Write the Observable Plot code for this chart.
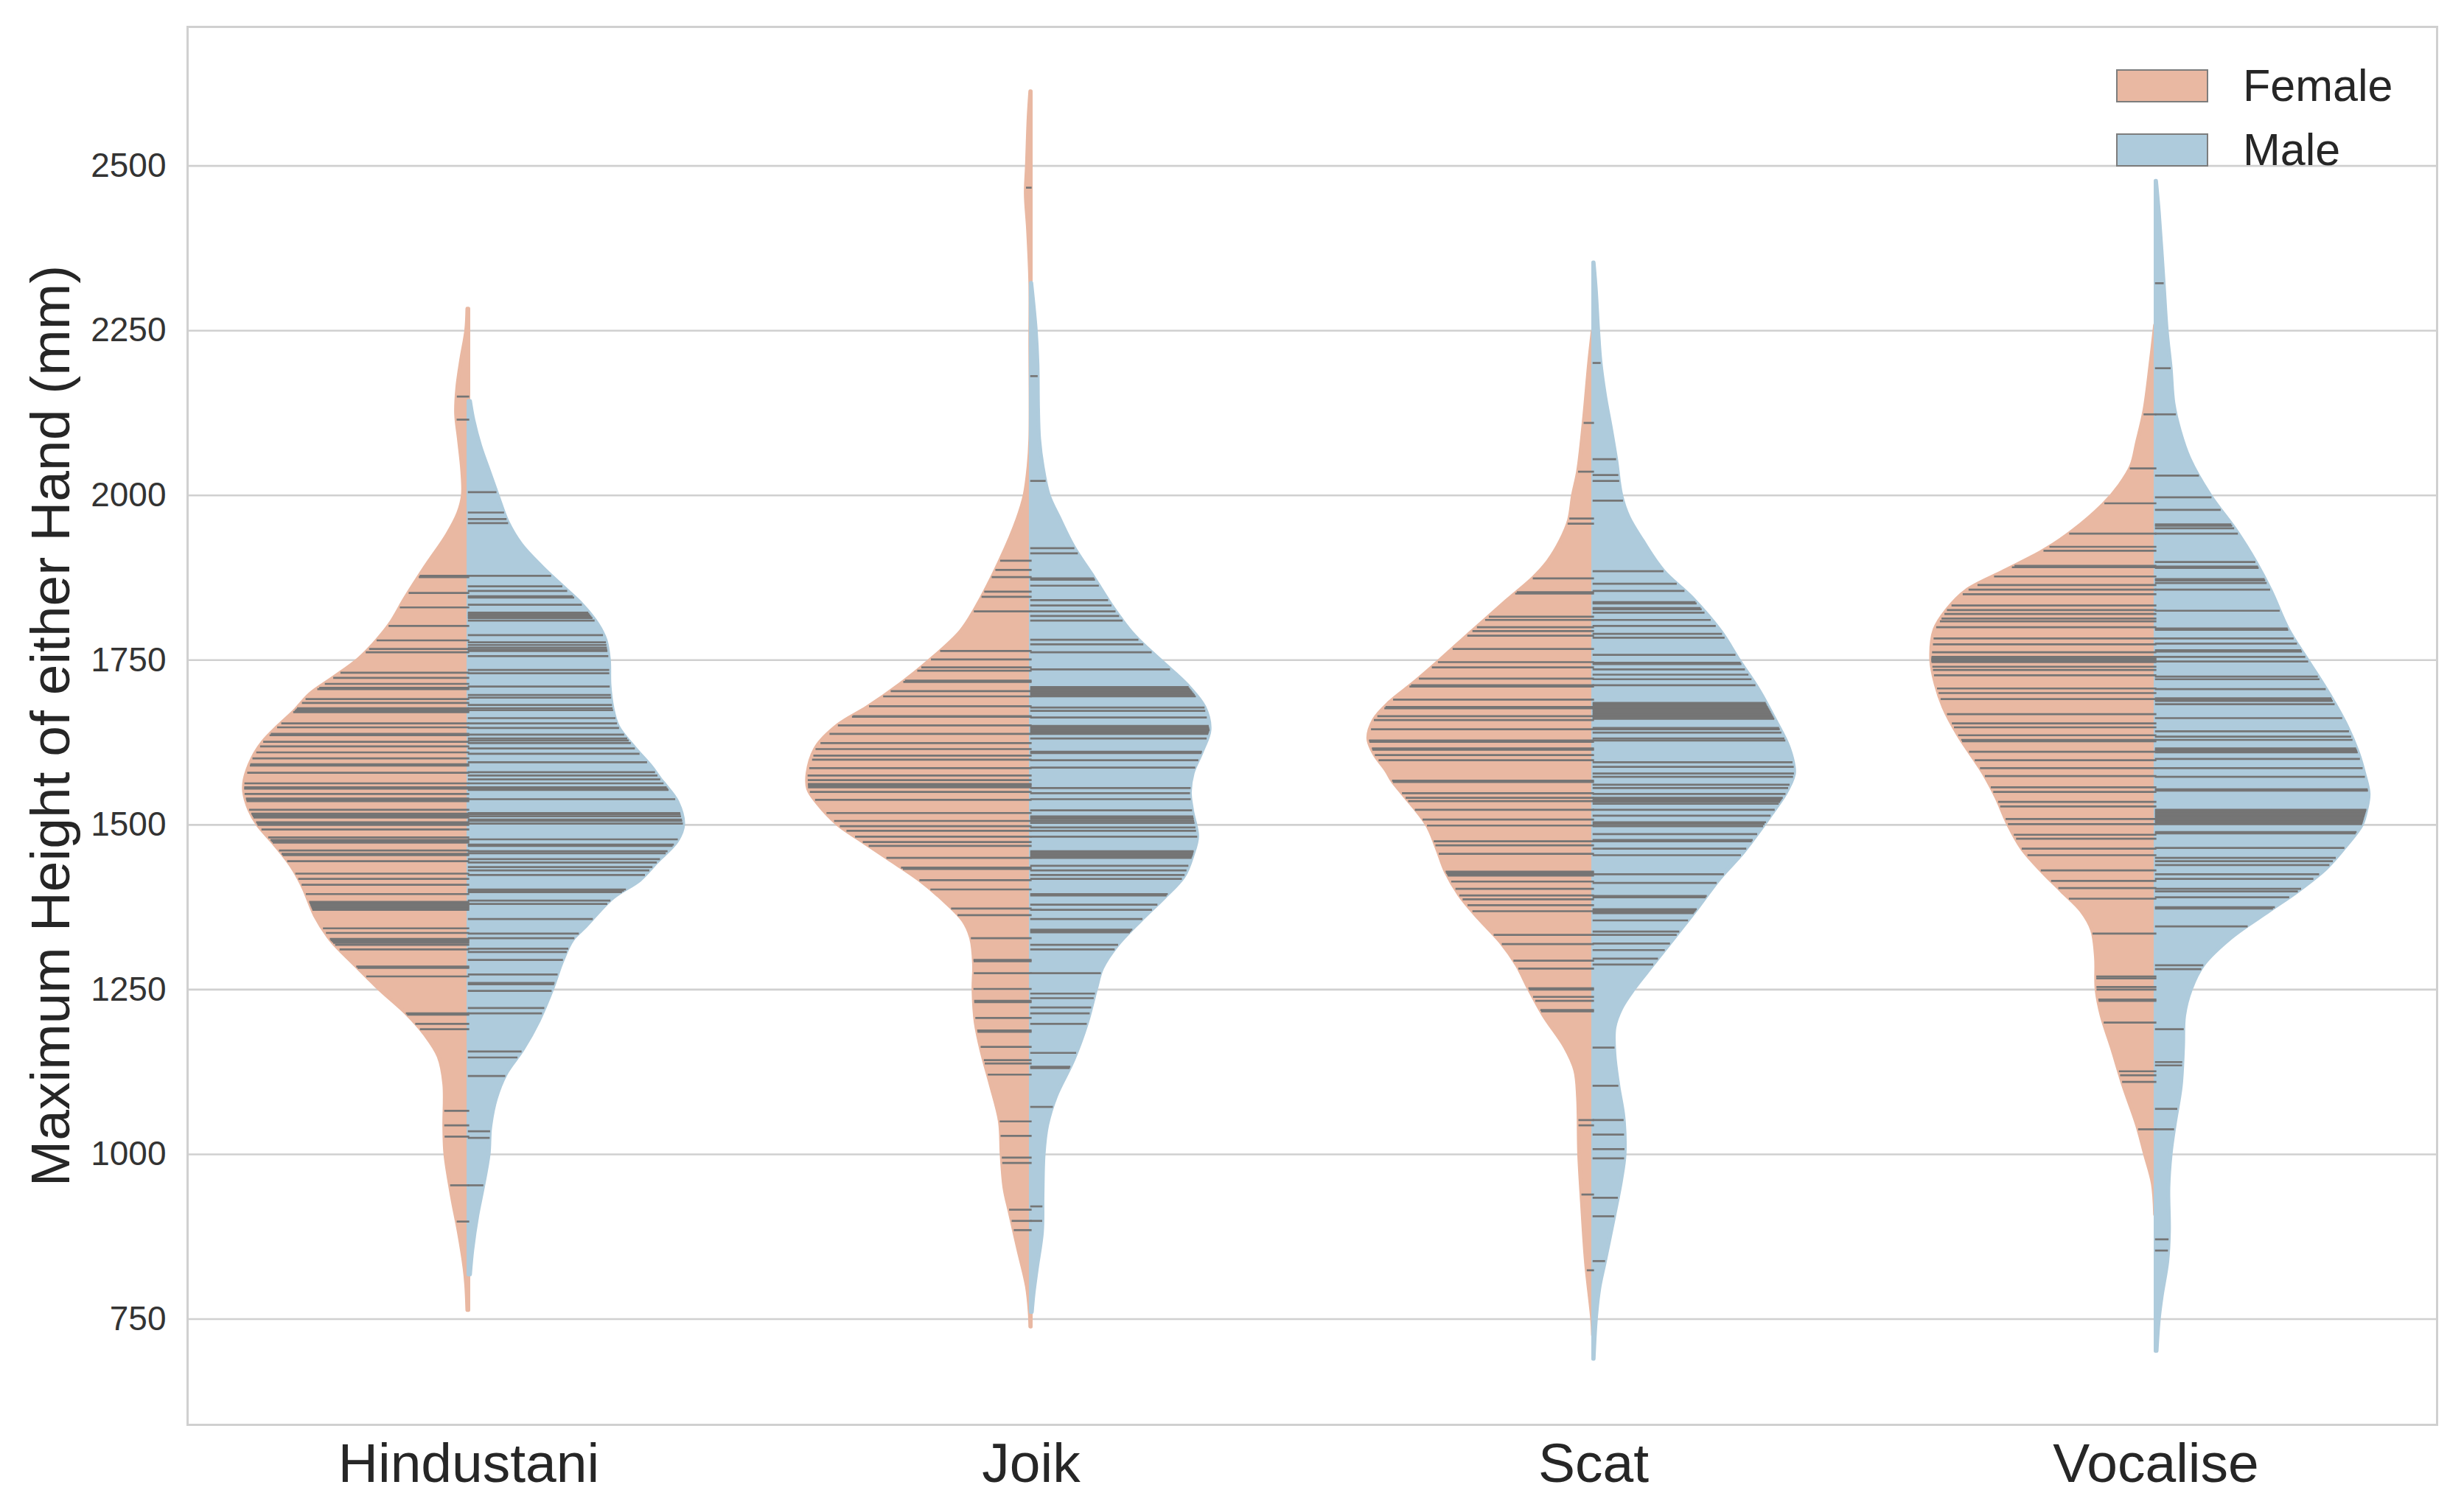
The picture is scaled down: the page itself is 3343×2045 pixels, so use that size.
<!DOCTYPE html>
<html>
<head>
<meta charset="utf-8">
<script src="https://cdn.jsdelivr.net/npm/d3@7"></script>
<script src="https://cdn.jsdelivr.net/npm/@observablehq/plot@0.6"></script>
<style>
  body { margin: 0; background: #fff; font-family: "Liberation Sans", Arial, sans-serif; }
  #wrap { position: relative; width: 3343px; height: 2045px; }
  .key { position: absolute; left: 2871px; display: flex; align-items: center; font-size: 61px; color: #262626; }
  .key i { display: block; width: 121px; height: 41px; border: 2.5px solid #7d7d7d; margin-right: 47px; }
</style>
</head>
<body>
<div id="wrap">
  <div id="plot"></div>
  <div class="key" style="top:81px"><i style="background:#e9b8a2"></i><span>Female</span></div>
  <div class="key" style="top:168px"><i style="background:#aecbdc"></i><span>Male</span></div>
</div>
<script>
const genres = ["Hindustani", "Joik", "Scat", "Vocalise"];
const yTicks = [750, 1000, 1250, 1500, 1750, 2000, 2250, 2500];

// violin outlines: height (mm) and half width (in category units)
const hinFemaleY = [2283,2250,2205,2162,2123,2085,2036,2000,1973,1940,1891,1843,1804,1770,1750,1722,1698,1673,1649,1625,1601,1568,1550,1523,1500,1470,1437,1405,1362,1325,1288,1250,1213,1181,1148,1106,1041,999,934,881,827,801,763];
const hinFemaleW = [.002,.004,.013,.020,.022,.017,.011,.010,.018,.038,.077,.113,.140,.173,.197,.242,.282,.309,.339,.366,.384,.398,.399,.390,.375,.345,.315,.294,.273,.245,.203,.158,.110,.077,.053,.043,.043,.041,.029,.017,.007,.004,.002];
const hinMaleY = [2143,2114,2075,2036,2000,1959,1925,1891,1862,1833,1804,1780,1750,1712,1678,1649,1616,1587,1568,1560,1534,1500,1475,1443,1416,1389,1346,1325,1293,1250,1202,1159,1122,1084,1041,999,950,907,854,817];
const hinMaleW = [.003,.009,.021,.037,.052,.070,.094,.131,.167,.203,.230,.244,.250,.251,.256,.266,.296,.326,.342,.350,.372,.382,.371,.335,.305,.257,.209,.185,.167,.149,.125,.097,.067,.049,.039,.036,.026,.016,.007,.003];

const joiFemaleY = [2613,2572,2500,2457,2403,2322,2234,2085,2044,2000,1963,1902,1827,1793,1749,1712,1678,1651,1617,1578,1554,1532,1500,1477,1449,1416,1388,1354,1327,1288,1250,1199,1154,1104,1049,1000,949,910,854,799,760,738];
const joiFemaleW = [.001,.004,.007,.009,.005,.001,.001,.001,.004,.011,.024,.054,.099,.125,.180,.234,.291,.343,.382,.397,.396,.379,.343,.304,.255,.198,.159,.120,.106,.101,.102,.098,.087,.071,.055,.052,.047,.037,.022,.007,.002,.001];
const joiMaleY = [2322,2250,2200,2132,2085,2044,2000,1963,1922,1875,1827,1787,1749,1712,1678,1644,1610,1578,1549,1521,1482,1454,1421,1388,1354,1316,1282,1250,1199,1143,1088,1043,1000,938,882,827,788,760];
const joiMaleW = [.001,.009,.012,.013,.015,.021,.032,.052,.076,.112,.148,.184,.231,.278,.309,.318,.304,.288,.283,.287,.296,.288,.272,.236,.195,.153,.127,.116,.100,.076,.045,.029,.023,.021,.020,.011,.005,.002];

const scaFemaleY = [2249,2203,2110,2036,2000,1962,1931,1900,1875,1839,1793,1750,1716,1685,1659,1631,1608,1582,1566,1547,1500,1464,1428,1393,1357,1322,1287,1250,1210,1162,1127,1085,1000,926,837,750,725];
const scaFemaleW = [.001,.007,.017,.027,.036,.043,.058,.080,.106,.155,.216,.272,.318,.363,.390,.400,.390,.368,.357,.339,.296,.278,.262,.238,.203,.165,.136,.114,.088,.050,.032,.027,.025,.020,.013,.002,.0005];
const scaMaleY = [2353,2310,2250,2203,2152,2100,2054,2000,1967,1931,1885,1844,1793,1750,1705,1655,1619,1587,1576,1547,1517,1500,1458,1417,1375,1328,1287,1250,1221,1192,1151,1103,1056,1000,961,908,837,796,750,689];
const scaMaleW = [.001,.005,.009,.013,.021,.032,.041,.050,.063,.088,.125,.176,.227,.259,.294,.326,.347,.357,.357,.342,.318,.304,.267,.224,.187,.144,.106,.072,.050,.038,.038,.045,.054,.056,.050,.038,.021,.011,.005,.001];

const vocFemaleY = [2258,2199,2128,2080,2045,2015,1986,1944,1915,1885,1855,1826,1796,1750,1713,1678,1636,1578,1541,1500,1464,1428,1399,1369,1340,1298,1250,1210,1162,1103,1044,1000,955,908];
const vocFemaleW = [.001,.009,.020,.033,.043,.064,.093,.150,.201,.269,.337,.371,.393,.399,.391,.377,.351,.306,.283,.262,.238,.201,.167,.132,.113,.106,.105,.096,.078,.057,.033,.019,.005,.001];
const vocMaleY = [2477,2429,2329,2250,2193,2139,2098,2056,2000,1944,1897,1855,1796,1750,1696,1648,1607,1578,1547,1523,1500,1470,1434,1399,1369,1328,1287,1250,1210,1162,1103,1044,1000,949,884,837,784,750,701];
const vocMaleW = [.001,.006,.014,.020,.027,.032,.043,.060,.097,.145,.179,.205,.236,.270,.310,.341,.361,.371,.379,.375,.367,.341,.304,.253,.202,.134,.085,.063,.051,.049,.045,.034,.027,.023,.024,.021,.011,.006,.002];

// one stick per observation
const hinFemaleSticks = [2150,2115,1878,1876,1852,1830,1802,1780,1767,1762,1731,1723,1714,1708,1706,1691,1685,1677,1675,1673,1671,1654,1648,1638,1636,1626,1619,1610,1601,1592,1590,1579,1563,1557,1555,1547,1540,1538,1536,1523,1517,1515,1513,1511,1504,1502,1500,1493,1481,1477,1475,1473,1461,1456,1454,1445,1426,1418,1409,1395,1383,1381,1379,1377,1375,1373,1371,1343,1336,1327,1325,1323,1321,1318,1311,1285,1283,1270,1214,1212,1198,1190,1066,1044,1027,953,898];
const hinMaleSticks = [2005,1974,1964,1958,1878,1862,1855,1847,1845,1834,1822,1820,1818,1816,1814,1810,1788,1777,1773,1769,1766,1764,1756,1735,1730,1710,1697,1693,1682,1677,1674,1662,1654,1647,1637,1631,1628,1624,1616,1608,1595,1580,1575,1569,1563,1557,1555,1553,1539,1518,1516,1513,1508,1506,1502,1478,1470,1468,1460,1457,1448,1443,1436,1431,1424,1402,1400,1398,1385,1380,1357,1335,1328,1312,1307,1295,1273,1260,1258,1248,1222,1214,1156,1147,1119,1035,1025,953];

const joiFemaleSticks = [2467,1901,1887,1876,1854,1846,1824,1764,1751,1739,1734,1719,1717,1703,1695,1680,1665,1664,1651,1638,1624,1615,1605,1599,1586,1575,1568,1562,1560,1557,1550,1538,1518,1506,1498,1491,1482,1474,1468,1450,1435,1433,1416,1402,1373,1363,1328,1295,1293,1275,1251,1233,1231,1207,1188,1186,1163,1143,1138,1121,1050,1028,995,987,916,899,885];
const joiMaleSticks = [2181,2022,1920,1912,1874,1872,1863,1841,1833,1824,1817,1810,1781,1774,1762,1736,1709,1707,1705,1703,1701,1699,1697,1695,1678,1673,1663,1650,1648,1646,1644,1642,1640,1638,1631,1611,1609,1598,1587,1556,1548,1539,1522,1513,1511,1509,1506,1503,1496,1491,1482,1460,1458,1456,1454,1452,1450,1438,1431,1424,1418,1395,1393,1379,1371,1357,1341,1339,1337,1318,1311,1275,1244,1237,1223,1214,1198,1154,1133,1131,921,899,1072];

const scaFemaleSticks = [2110,2036,1965,1957,1874,1853,1851,1816,1811,1800,1794,1787,1767,1747,1739,1722,1712,1710,1690,1679,1677,1665,1659,1645,1628,1626,1616,1614,1606,1598,1567,1565,1548,1541,1536,1523,1508,1499,1475,1469,1456,1429,1427,1425,1423,1414,1403,1393,1387,1378,1369,1333,1319,1294,1282,1252,1250,1239,1233,1219,1217,1052,1044,939,824];
const scaMaleSticks = [2201,2055,2031,2022,1992,1885,1866,1855,1838,1836,1829,1827,1822,1811,1802,1790,1784,1758,1746,1744,1736,1728,1721,1712,1685,1683,1681,1679,1677,1675,1673,1671,1669,1667,1665,1663,1661,1647,1645,1640,1631,1628,1595,1588,1578,1573,1561,1556,1547,1541,1539,1537,1535,1532,1523,1514,1504,1501,1498,1486,1477,1475,1464,1454,1425,1412,1392,1390,1372,1370,1368,1366,1355,1338,1333,1320,1310,1297,1288,1162,1104,1052,1030,1008,994,934,906,838];

const vocFemaleSticks = [2123,2041,1988,1942,1922,1916,1893,1891,1877,1864,1857,1850,1833,1826,1820,1813,1809,1800,1783,1774,1762,1755,1753,1751,1749,1747,1740,1735,1727,1707,1700,1691,1668,1654,1648,1636,1629,1627,1611,1598,1586,1574,1557,1550,1535,1528,1509,1501,1485,1479,1464,1454,1431,1415,1404,1388,1335,1270,1267,1254,1250,1235,1233,1200,1126,1120,1110,1038];
const vocMaleSticks = [2322,2193,2123,2030,1997,1978,1956,1954,1950,1942,1899,1892,1890,1873,1871,1867,1857,1825,1798,1796,1783,1775,1765,1763,1755,1748,1725,1721,1706,1692,1690,1688,1683,1662,1642,1634,1629,1616,1614,1612,1610,1600,1586,1573,1554,1552,1523,1521,1519,1517,1515,1513,1511,1509,1507,1505,1503,1501,1489,1487,1465,1450,1445,1439,1425,1418,1403,1399,1390,1375,1373,1346,1287,1281,1190,1140,1135,1069,1038,871,854];

const femaleColor = "#e9b8a2";
const maleColor = "#aecbdc";

const halves = [
  { g: 0, side: -1, ys: hinFemaleY, ws: hinFemaleW, sticks: hinFemaleSticks },
  { g: 1, side: -1, ys: joiFemaleY, ws: joiFemaleW, sticks: joiFemaleSticks },
  { g: 2, side: -1, ys: scaFemaleY, ws: scaFemaleW, sticks: scaFemaleSticks },
  { g: 3, side: -1, ys: vocFemaleY, ws: vocFemaleW, sticks: vocFemaleSticks },
  { g: 0, side: 1, ys: hinMaleY, ws: hinMaleW, sticks: hinMaleSticks },
  { g: 1, side: 1, ys: joiMaleY, ws: joiMaleW, sticks: joiMaleSticks },
  { g: 2, side: 1, ys: scaMaleY, ws: scaMaleW, sticks: scaMaleSticks },
  { g: 3, side: 1, ys: vocMaleY, ws: vocMaleW, sticks: vocMaleSticks }
];

// half width of a violin at a given height, so a stick stops at the outline
function widthAt(v, ys, ws) {
  for (let i = 1; i < ys.length; i++) {
    if (v >= ys[i]) {
      const t = (v - ys[i]) / (ys[i - 1] - ys[i] || 1);
      return ws[i] + t * (ws[i - 1] - ws[i]);
    }
  }
  return ws[ws.length - 1];
}

const outlineRows = side => halves.filter(h => h.side === side).flatMap(h =>
  h.ys.map((y, i) => ({ key: h.g, y, x1: h.g, x2: h.g + side * h.ws[i] })));

const stickRows = halves.flatMap(h => h.sticks.map(v => {
  const w = widthAt(v, h.ys, h.ws);
  return h.side < 0
    ? { y: v, x1: h.g - w, x2: h.g + 0.0015 }
    : { y: v, x1: h.g - 0.001, x2: h.g + w };
}));

const chart = Plot.plot({
  width: 3343,
  height: 2045,
  marginLeft: 254,
  marginRight: 37,
  marginTop: 36,
  marginBottom: 112,
  style: { background: "#fff", fontFamily: "'Liberation Sans', Arial, sans-serif" },
  x: { domain: [-0.5, 3.5], axis: null },
  y: { domain: [589.5, 2711], axis: null },
  marks: [
    Plot.ruleY(yTicks, { stroke: "#d0d0d0", strokeWidth: 2.6 }),
    Plot.frame({ stroke: "#d0d0d0", strokeWidth: 3 }),
    Plot.axisY({ ticks: yTicks, tickSize: 0, tickPadding: 29, tickFormat: d => String(d), fontSize: 46, color: "#333", label: null }),
    Plot.axisX({ ticks: [0, 1, 2, 3], tickSize: 0, tickPadding: 24, tickFormat: i => genres[i], fontSize: 75, color: "#262626", label: null }),
    Plot.text(["Maximum Height of either Hand (mm)"], { frameAnchor: "left", textAnchor: "middle", rotate: -90, dx: -185, fontSize: 75, fill: "#262626" }),
    Plot.areaX(outlineRows(-1), { y: "y", x1: "x1", x2: "x2", z: "key", curve: "catmull-rom", fill: femaleColor, stroke: femaleColor, strokeWidth: 5, strokeLinejoin: "round" }),
    Plot.areaX(outlineRows(1), { y: "y", x1: "x1", x2: "x2", z: "key", curve: "catmull-rom", fill: maleColor, stroke: maleColor, strokeWidth: 5, strokeLinejoin: "round" }),
    Plot.ruleY(stickRows, { y: "y", x1: "x1", x2: "x2", stroke: "#757575", strokeWidth: 2.7 })
  ]
});

document.getElementById("plot").appendChild(chart);
</script>
</body>
</html>
